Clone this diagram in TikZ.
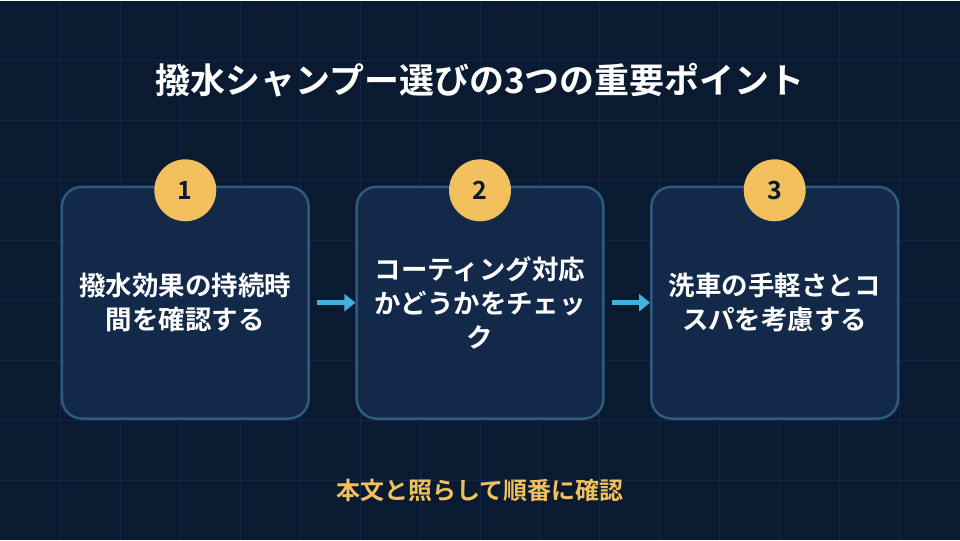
\documentclass[tikz,border=0pt]{standalone}
\usepackage{fontspec}
\setmainfont{Noto Sans CJK JP}[BoldFont={Noto Sans CJK JP Bold}]
\usetikzlibrary{arrows.meta}
\definecolor{bg}{HTML}{0A1A30}
\definecolor{gridc}{HTML}{12284A}
\definecolor{boxf}{HTML}{12294A}
\definecolor{boxb}{HTML}{2F5A80}
\definecolor{gold}{HTML}{F2C05C}
\definecolor{arr}{HTML}{45B0E0}
\begin{document}
\begin{tikzpicture}[x=1pt,y=-1pt,
  box/.style={draw=boxb,line width=2.5pt,fill=boxf,rounded corners=20pt,minimum width=247pt,minimum height=232pt,inner sep=0pt},
  btxt/.style={text=white,font=\bfseries\fontsize{26.5}{34}\selectfont,align=center,text width=240pt},
  num/.style={circle,fill=gold,minimum size=62pt,inner sep=0pt,text=bg,font=\bfseries\fontsize{25}{28}\selectfont},
  conn/.style={draw=arr,line width=5pt,-{Triangle[length=11pt,width=17pt]}}]
\fill[bg] (0,0) rectangle (960,540);
\foreach \i in {60,120,...,900} \draw[gridc,line width=1pt] (\i,0) -- (\i,540);
\foreach \j in {60,120,...,480} \draw[gridc,line width=1pt] (0,\j) -- (960,\j);
\node[text=white,font=\bfseries\fontsize{35}{40}\selectfont] (title) at (480,80) {撥水シャンプー選びの3つの重要ポイント};
\node[box] (b1) at (185,302.5) {};
\node[box] (b2) at (480,302.5) {};
\node[box] (b3) at (775,302.5) {};
\node[btxt] (t1) at (b1) {撥水効果の持続時\\間を確認する};
\node[btxt] (t2) at (b2) {コーティング対応\\かどうかをチェッ\\ク};
\node[btxt] (t3) at (b3) {洗車の手軽さとコ\\スパを考慮する};
\node[num] (n1) at (185,190) {1};
\node[num] (n2) at (480,190) {2};
\node[num] (n3) at (775,190) {3};
\draw[conn] (b1.east) ++(7,0) coordinate (a1) (a1) -- (b2.west);
\draw[conn] (b2.east) ++(7,0) coordinate (a2) (a2) -- (b3.west);
\node[text=gold,font=\bfseries\fontsize{24}{28}\selectfont] (foot) at (480,490) {本文と照らして順番に確認};
\end{tikzpicture}
\end{document}
